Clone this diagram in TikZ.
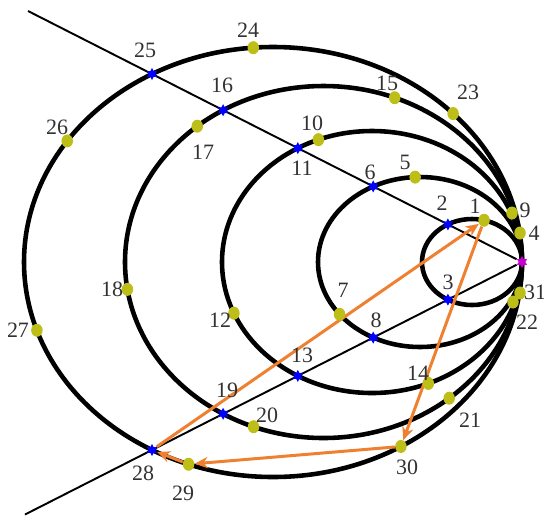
\documentclass[tikz,border=0pt]{standalone}
\usepackage{fontspec}
\setmainfont{Liberation Serif}
\usetikzlibrary{arrows.meta,shapes.geometric}
\definecolor{dotyel}{RGB}{190,190,25}
\definecolor{arrorange}{RGB}{238,128,48}
\definecolor{labgray}{RGB}{50,50,50}
\definecolor{ptmag}{RGB}{200,0,210}
\newcommand\pxu{0.02cm}
\newcommand\edot[6]{%
  \pgfmathsetmacro\myang{atan2((#6-262)/#4,(#5-#2)/#3)}%
  \node[ydot] (#1) at ({#2+#3*cos(\myang)},{262+#4*sin(\myang)}) {};}
\pgfdeclarelayer{bg}
\pgfsetlayers{bg,main}
\begin{document}
\begin{tikzpicture}[x=0.02cm,y=-0.02cm,
  ydot/.style={ellipse,fill=dotyel,inner sep=0,minimum width=0.23cm,minimum height=0.26cm},
  bstar/.style={star,star points=6,star point ratio=1.8,fill=blue,inner sep=0,minimum size=0.24cm},
  mstar/.style={star,star points=6,star point ratio=1.8,fill=ptmag,inner sep=0,minimum size=0.24cm},
  lab/.style={text=labgray,font=\fontsize{12.5}{14}\selectfont,inner sep=0},
  curve/.style={line width=2.6pt},
  ray/.style={line width=1.1pt},
  flow/.style={draw=arrorange,line width=1.7pt,-{Stealth[length=7.5pt,width=6.5pt]}}]
\useasboundingbox (0,0) rectangle (544,515);

% tangent point and ray ends
\node[mstar] (P) at (522,262) {};
\coordinate (ul) at (28,11);
\coordinate (ll) at (25,514.5);

% points on the rays
\node[bstar] (p2) at (447.9,224.4) {};
\node[bstar] (p3) at (447.9,299.6) {};
\node[bstar] (p6) at (373.2,186.4) {};
\node[bstar] (p8) at (373.2,337.6) {};
\node[bstar] (p11) at (297.8,148.1) {};
\node[bstar] (p13) at (297.8,375.9) {};
\node[bstar] (p16) at (223.1,110.2) {};
\node[bstar] (p19) at (223.1,413.8) {};
\node[bstar] (p25) at (152,74) {};
\node[bstar] (p28) at (152,450) {};

% points on the curves
\edot{p1}{472}{50}{43}{485}{217}
\node[ydot] (p4) at (520,233) {};
\node[ydot] (p9) at (512,213) {};
\node[ydot] (p22) at (513,302) {};
\node[ydot] (p31) at (520,293) {};
\edot{p5}{420}{102}{85}{415}{175}
\edot{p7}{420}{102}{85}{343}{312}
\edot{p10}{372}{150}{131}{319}{141}
\edot{p12}{372}{150}{131}{237}{312}
\edot{p14}{372}{150}{131}{430}{387}
\edot{p15}{323.5}{198.5}{176}{395}{97}
\edot{p17}{323.5}{198.5}{176}{198}{127}
\edot{p18}{323.5}{198.5}{176}{130}{289}
\edot{p20}{323.5}{198.5}{176}{253}{428}
\edot{p21}{323.5}{198.5}{176}{449}{398}
\edot{p23}{273}{249}{215}{455}{112}
\edot{p24}{273}{249}{215}{253}{45}
\edot{p26}{273}{249}{215}{69}{142}
\edot{p27}{273}{249}{215}{38}{330}
\edot{p29}{273}{249}{215}{187}{468}
\edot{p30}{273}{249}{215}{402}{448}

\begin{pgfonlayer}{bg}
  \draw[ray] (ul) -- (P);
  \draw[ray] (P) -- (ll);
  \draw[curve] (472,262) ellipse [x radius={50*\pxu}, y radius={43*\pxu}];
  \draw[curve] (420,262) ellipse [x radius={102*\pxu}, y radius={85*\pxu}];
  \draw[curve] (372,262) ellipse [x radius={150*\pxu}, y radius={131*\pxu}];
  \draw[curve] (323.5,262) ellipse [x radius={198.5*\pxu}, y radius={176*\pxu}];
  \draw[curve] (273,262) ellipse [x radius={249*\pxu}, y radius={215*\pxu}];
  \draw[flow] (p28) -- (p1);
  \draw[flow] (p1) -- (p30);
  \draw[flow] (p30) -- (p29);
  \draw[flow] (p29) -- (p28);
\end{pgfonlayer}

% labels
\node[lab] (l1) at (475,206) {1};
\node[lab] (l2) at (442,203) {2};
\node[lab] (l3) at (448,282) {3};
\node[lab] (l4) at (534,233) {4};
\node[lab] (l5) at (405,162) {5};
\node[lab] (l6) at (370,172) {6};
\node[lab] (l7) at (343,290) {7};
\node[lab] (l8) at (376,320) {8};
\node[lab] (l9) at (525,210) {9};
\node[lab] (l10) at (312,123) {10};
\node[lab] (l11) at (302,168) {11};
\node[lab] (l12) at (220,320) {12};
\node[lab] (l13) at (302,355) {13};
\node[lab] (l14) at (418,373) {14};
\node[lab] (l15) at (387,83) {15};
\node[lab] (l16) at (222,85) {16};
\node[lab] (l17) at (203,152) {17};
\node[lab] (l18) at (112,289) {18};
\node[lab] (l19) at (227,390) {19};
\node[lab] (l20) at (267,415) {20};
\node[lab] (l21) at (470,420) {21};
\node[lab] (l22) at (527,322) {22};
\node[lab] (l23) at (468,92) {23};
\node[lab] (l24) at (248,30) {24};
\node[lab] (l25) at (145,50) {25};
\node[lab] (l26) at (57,127) {26};
\node[lab] (l27) at (18,330) {27};
\node[lab] (l28) at (143,473) {28};
\node[lab] (l29) at (183,493) {29};
\node[lab] (l30) at (407,467) {30};
\node[lab] (l31) at (535,292) {31};
\end{tikzpicture}
\end{document}
